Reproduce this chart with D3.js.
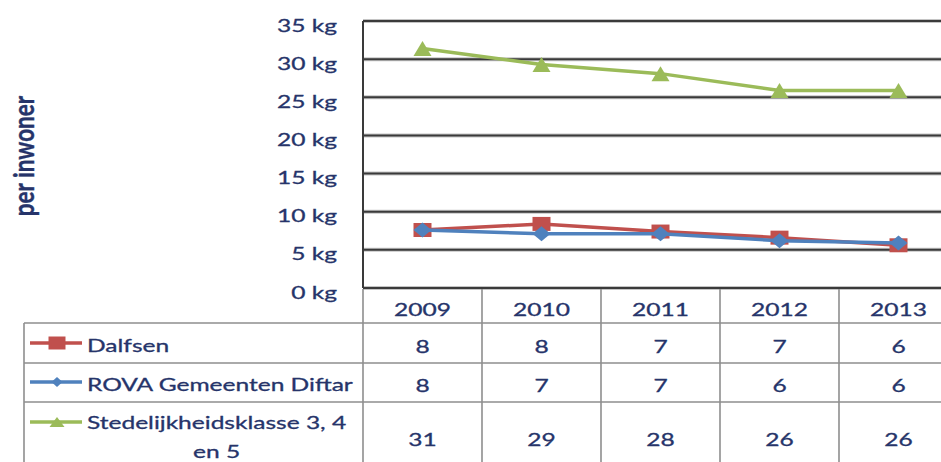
<!DOCTYPE html>
<html>
<head>
<meta charset="utf-8">
<script src="https://cdn.jsdelivr.net/npm/d3@7"></script>
<style>
  body { margin: 0; background: #fff; }
  text { font-family: Lato, "Open Sans", sans-serif; fill: #26346a; stroke: #26346a; stroke-width: 0.3; }
</style>
</head>
<body>
<svg id="chart"></svg>
<script>
// data
const years = ["2009", "2010", "2011", "2012", "2013"];
const seriesNames = ["Dalfsen", "ROVA Gemeenten Diftar", "Stedelijkheidsklasse 3, 4 en 5"];
const dalfsen = [7.6, 8.4, 7.4, 6.6, 5.6];
const rova = [7.6, 7.1, 7.1, 6.2, 5.9];
const stedelijk = [31.4, 29.3, 28.1, 25.9, 25.9];
const yTicks = [0, 5, 10, 15, 20, 25, 30, 35];
const yTitle = "per inwoner";

const colors = ["#c0504d", "#4f81bd", "#9bbb59"];
const shapes = ["square", "diamond", "triangle"];

const W = 941, H = 462;
const plot = {left: 363, top: 21, bottom: 288, right: 958};
const rows = [288, 323, 363, 402, 470];   // table row edges
const tableLeft = 24;
const FS = 17.5;

const svg = d3.select("#chart").attr("width", W).attr("height", H);

// the picture is stretched sideways, so text is stretched to match
const probe = svg.append("text").style("font-size", FS + "px").text("ROVA Gemeenten Diftar");
const SX = 266 / probe.node().getComputedTextLength();
probe.remove();

const x = d3.scaleBand().domain(years).range([plot.left, plot.right]);
const y = d3.scaleLinear().domain([0, 35]).range([plot.bottom, plot.top]);
const cx = d => x(d) + x.bandwidth() / 2;

function marker(shape, w, h) {
    const a = w / 2, b = h / 2;
    if (shape === "square") return `M${-a},${-b}H${a}V${b}H${-a}Z`;
    if (shape === "diamond") return `M0,${-b}L${a},0L0,${b}L${-a},0Z`;
    return `M0,${-b}L${a},${b}L${-a},${b}Z`;
}
const plotSize = {square: [18, 14], diamond: [18, 15], triangle: [18, 15]};
const keySize = {square: [17, 13], diamond: [11, 10], triangle: [15, 10]};

function hText(g, str, tx, ty, anchor, size, weight) {
    return g.append("text")
        .attr("transform", `translate(${tx},${ty}) scale(${SX},1)`)
        .attr("text-anchor", anchor || "start")
        .attr("dominant-baseline", "central")
        .style("font-size", (size || FS) + "px")
        .style("font-weight", weight || "normal")
        .text(str);
}

// gridlines (soft halo then dark line)
const grid = svg.append("g");
grid.selectAll(".halo")
    .data(yTicks)
    .join("line")
    .attr("x1", plot.left).attr("x2", W)
    .attr("y1", d => y(d)).attr("y2", d => y(d))
    .attr("stroke", "#c4c4c4").attr("stroke-width", 4);
grid.selectAll(".gl")
    .data(yTicks)
    .join("line")
    .attr("x1", plot.left).attr("x2", W)
    .attr("y1", d => y(d)).attr("y2", d => y(d))
    .attr("stroke", "#3a3a3a").attr("stroke-width", 2);
grid.append("line")
    .attr("x1", plot.left).attr("x2", plot.left)
    .attr("y1", y(35)).attr("y2", y(0))
    .attr("stroke", "#3a3a3a").attr("stroke-width", 2);

// y tick labels
const yLab = svg.append("g");
yTicks.forEach(t => hText(yLab, t + " kg", 337, y(t) + 4, "end"));

// y title
svg.append("text")
    .attr("transform", "translate(34,156) rotate(-90) scale(1,1.3)")
    .attr("text-anchor", "middle")
    .style("font-size", "22.5px")
    .style("font-weight", "bold")
    .text(yTitle);

// data table grid
const table = svg.append("g").attr("stroke", "#8e8e8e").attr("stroke-width", 1.6);
rows.slice(1, 4).forEach(r => {
    table.append("line").attr("x1", tableLeft).attr("x2", W).attr("y1", r).attr("y2", r);
});
table.append("line").attr("x1", tableLeft).attr("x2", tableLeft).attr("y1", rows[1]).attr("y2", H);
table.selectAll(".vl")
    .data(years)
    .join("line")
    .attr("x1", d => x(d)).attr("x2", d => x(d))
    .attr("y1", plot.bottom + 1).attr("y2", H);

// year header
const head = svg.append("g");
years.forEach(yr => hText(head, yr, cx(yr), 309, "middle"));

const seriesData = [dalfsen, rova, stedelijk];
const rowCenter = [345, 384, 438];

// series lines and markers
const line = d3.line().x((d, i) => cx(years[i])).y(d => y(d));
seriesData.forEach((vals, k) => {
    const g = svg.append("g");
    g.append("path")
        .attr("d", line(vals))
        .attr("fill", "none")
        .attr("stroke", colors[k])
        .attr("stroke-width", 3.5)
        .attr("stroke-linejoin", "round");
    const [mw, mh] = plotSize[shapes[k]];
    g.selectAll("path.m")
        .data(vals)
        .join("path")
        .attr("class", "m")
        .attr("d", marker(shapes[k], mw, mh))
        .attr("transform", (d, i) => `translate(${cx(years[i])},${y(d)})`)
        .attr("fill", colors[k]);
});

// table rows: legend key, label, rounded values
const fmt = d3.format(".0f");
const labelX = 87, labelMax = 272;
seriesData.forEach((vals, k) => {
    const g = svg.append("g");
    const ky = rowCenter[k] - (k === 2 ? 16 : 2);
    g.append("line")
        .attr("x1", 30).attr("x2", 82)
        .attr("y1", ky).attr("y2", ky)
        .attr("stroke", colors[k]).attr("stroke-width", 3.5);
    const [kw, kh] = keySize[shapes[k]];
    g.append("path")
        .attr("d", marker(shapes[k], kw, kh))
        .attr("transform", `translate(57,${ky})`)
        .attr("fill", colors[k]);

    // wrap the label if it is too wide for the cell
    const words = seriesNames[k].split(" ");
    const lines = [];
    let cur = [];
    const tmp = hText(g, "", 0, 0);
    words.forEach(w => {
        tmp.text([...cur, w].join(" "));
        if (cur.length && tmp.node().getComputedTextLength() * SX > labelMax) {
            lines.push(cur.join(" "));
            cur = [w];
        } else cur.push(w);
    });
    lines.push(cur.join(" "));
    tmp.remove();
    if (lines.length === 1) {
        hText(g, lines[0], labelX, rowCenter[k]);
    } else {
        const probeW = lines.map(l => {
            const t = hText(g, l, 0, 0);
            const w = t.node().getComputedTextLength() * SX;
            t.remove();
            return w;
        });
        const mid = labelX + d3.max(probeW) / 2;
        lines.forEach((l, j) => hText(g, l, mid, rowCenter[k] - 16 + j * 29, "middle"));
    }

    vals.forEach((v, i) => hText(g, fmt(v), cx(years[i]), rowCenter[k] + 1, "middle"));
});
</script>
</body>
</html>
